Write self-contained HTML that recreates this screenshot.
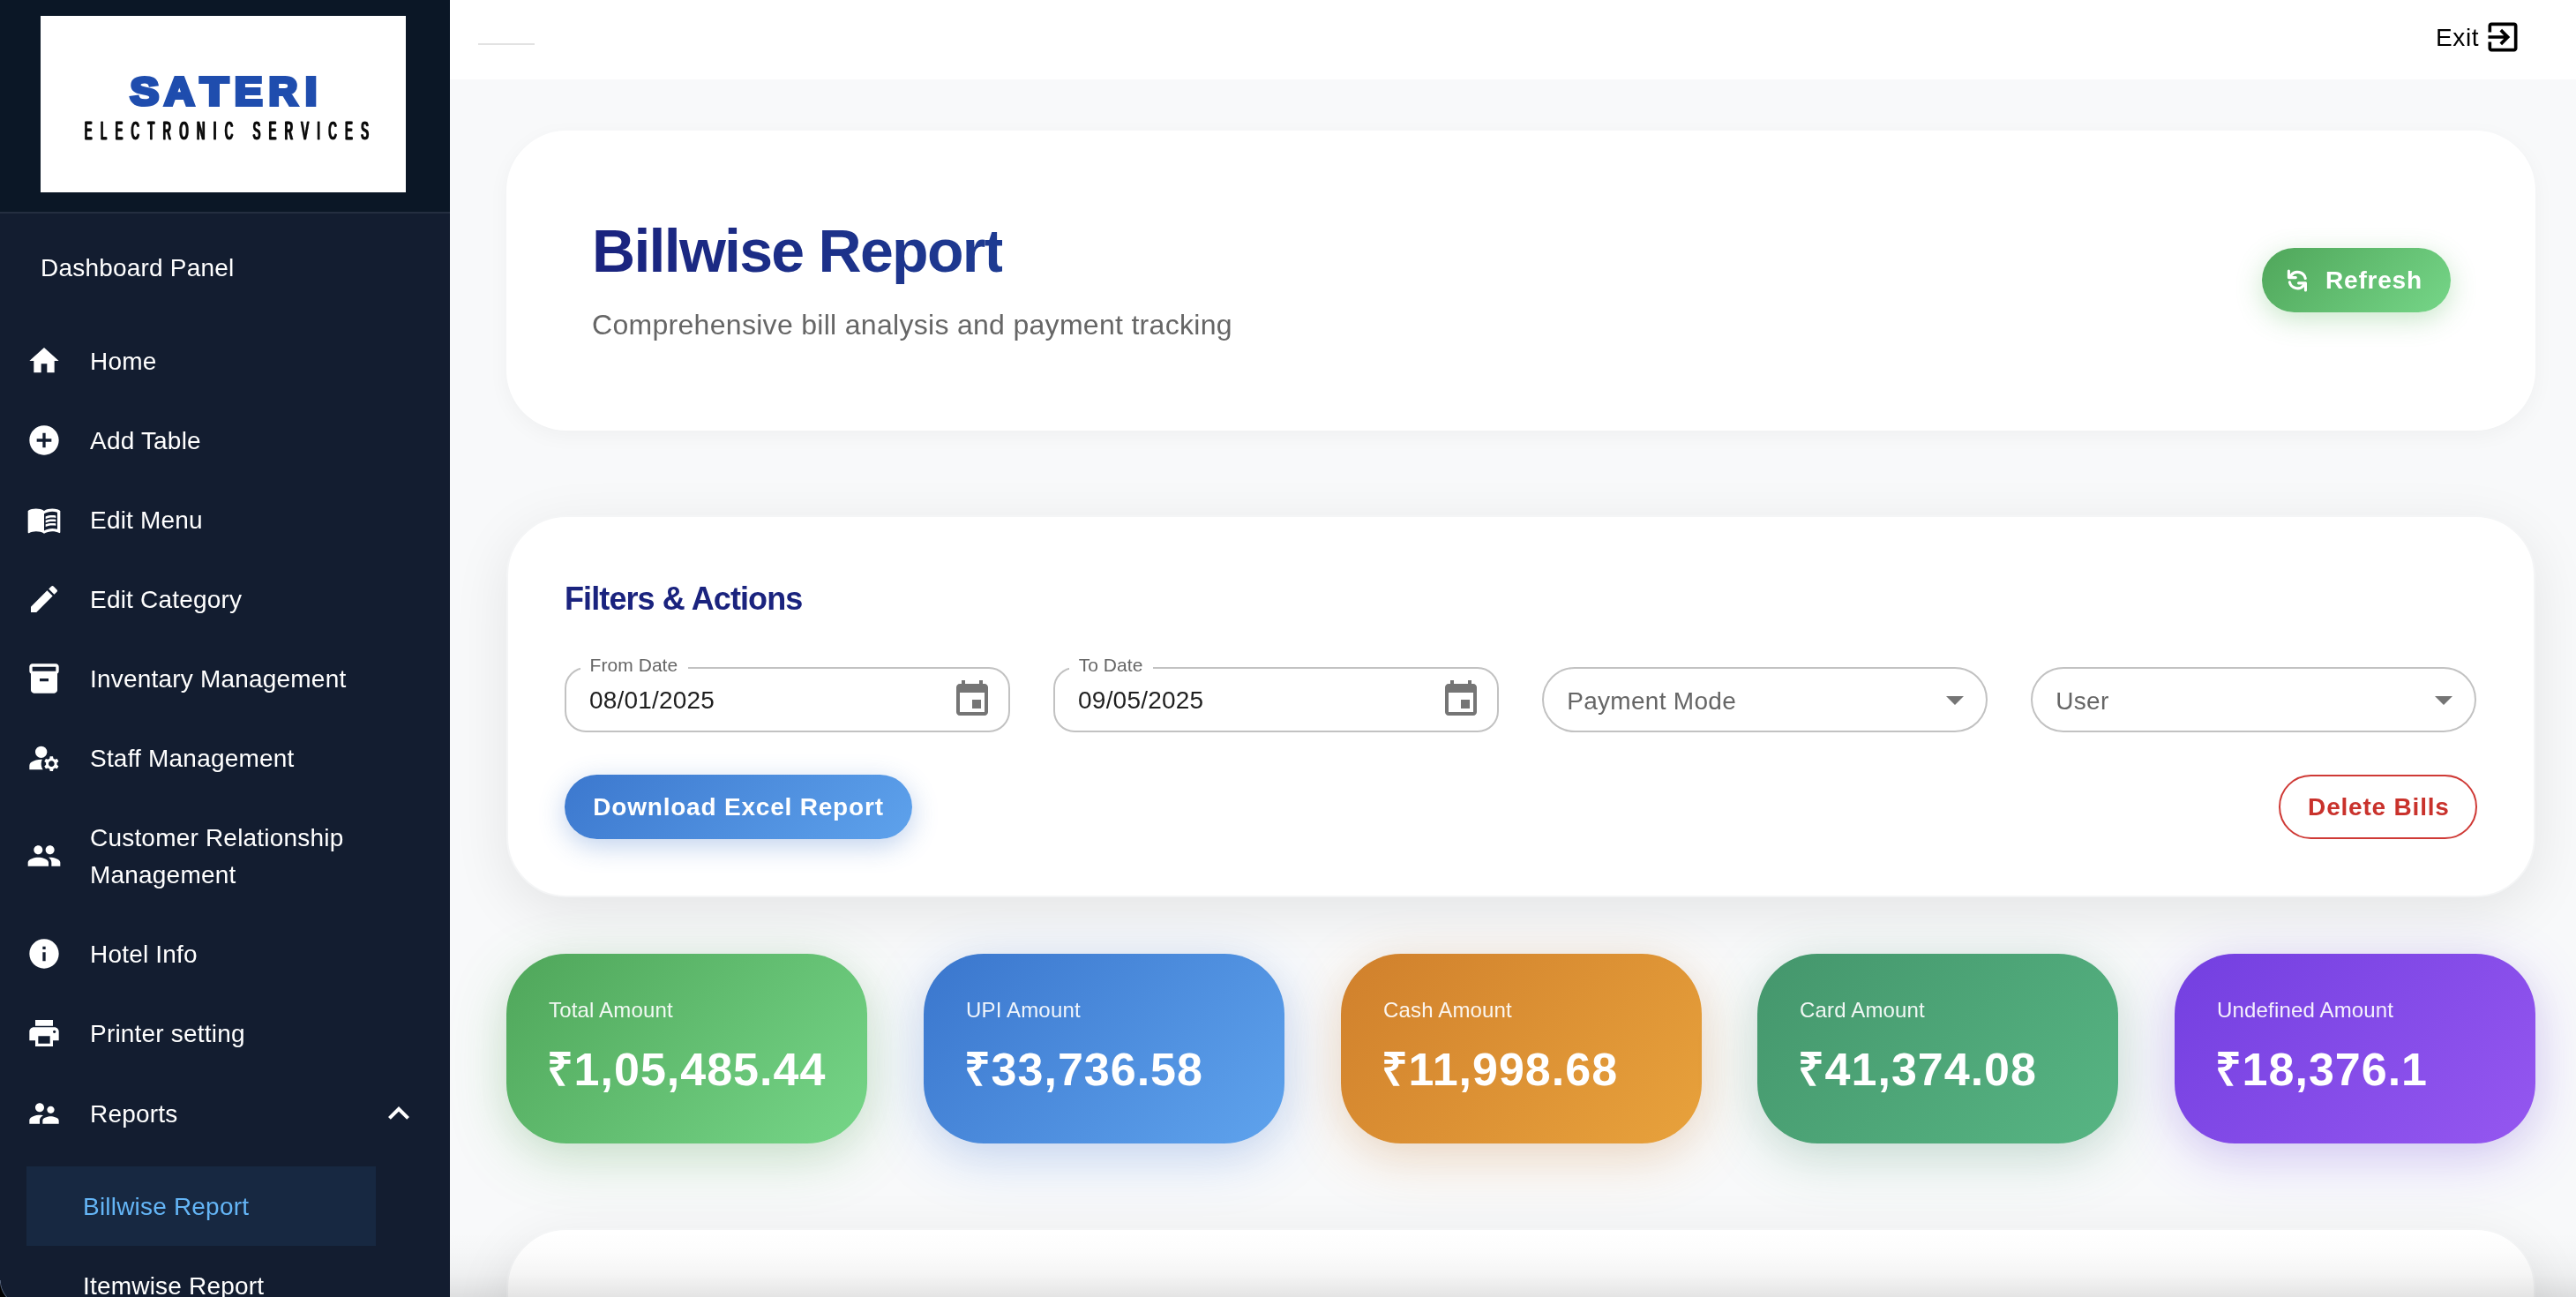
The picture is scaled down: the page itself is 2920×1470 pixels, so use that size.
<!DOCTYPE html>
<html lang="en">
<head>
<meta charset="utf-8">
<title>Billwise Report</title>
<style>
*{box-sizing:border-box;margin:0;padding:0}
html,body{width:2920px;height:1470px;overflow:hidden;background:#f8f9fa}
body{font-family:"Liberation Sans",sans-serif;position:relative;color:#000;will-change:transform}
.abs{position:absolute}
/* ---------- sidebar ---------- */
#side{position:absolute;left:0;top:0;width:510px;height:1470px;background:#131d30;overflow:hidden}
#sidetop{position:absolute;left:0;top:0;width:510px;height:240px;background:#0b1726}
#sidediv{position:absolute;left:0;top:240px;width:510px;height:2px;background:#242e40}
#logo{position:absolute;left:46px;top:18px;width:414px;height:200px;background:#fff}
.nav{position:absolute;left:102px;font-size:28px;line-height:42px;color:#fff;white-space:nowrap;letter-spacing:.2px}
.ico{position:absolute;left:30px;width:40px;height:40px;fill:#fff}
#sel{position:absolute;left:30px;top:1322px;width:396px;height:90px;background:#172841}
/* ---------- top bar ---------- */
#top{position:absolute;left:510px;top:0;width:2410px;height:90px;background:#fff}
#tline{position:absolute;left:542px;top:49px;width:64px;height:2px;background:#e2e2e2}
#exit{position:absolute;left:2761px;top:23px;font-size:28px;line-height:40px;color:#000;letter-spacing:.6px}
/* ---------- cards ---------- */
.card{position:absolute;left:574px;width:2300px;background:#fff;border-radius:68px;box-shadow:0 16px 64px rgba(0,0,0,.085);border:2px solid #f4f5f6}
#c1{top:148px;height:340px;border:0;box-shadow:0 6px 24px rgba(0,0,0,.04)}
#c2{top:584px;height:433px}
#c3{top:1392px;height:300px}
#title{position:absolute;left:671px;top:242px;font-size:68px;line-height:84px;font-weight:700;letter-spacing:-1.72px;white-space:nowrap;
 background:linear-gradient(90deg,#1a237e 0%,#1e3b92 100%);-webkit-background-clip:text;background-clip:text;color:transparent}
#sub{position:absolute;left:671px;top:344px;font-size:32px;line-height:48px;color:#666;white-space:nowrap;letter-spacing:.3px}
.btn{position:absolute;border-radius:50px;font-size:28px;font-weight:700;letter-spacing:.8px;white-space:nowrap;color:#fff;line-height:49px}
#refresh{left:2564px;top:281px;width:214px;height:73px;background:linear-gradient(135deg,#4fa65a 0%,#76d688 100%);box-shadow:0 8px 30px rgba(76,175,80,.3)}
#refresh span{position:absolute;left:72px;top:12px}
#h6{position:absolute;left:640px;top:650px;font-size:36px;line-height:58px;font-weight:700;color:#1a237e;white-space:nowrap;letter-spacing:-.9px}
.fld{position:absolute;top:756.2px;width:505.2px;height:73.4px;border:2px solid #c2c2c2;border-radius:24px}
.fld.sel{border-radius:37px}
.fld .lbl{position:absolute;left:15.8px;top:-19px;padding:0 11.6px 0 10.8px;background:#fff;font-size:21px;line-height:30px;color:#666;white-space:nowrap;letter-spacing:.05px}
.fld .val{position:absolute;left:26px;top:15.6px;font-size:28px;line-height:40px;color:#1f1f1f;white-space:nowrap;letter-spacing:.2px}
.fld .ph{position:absolute;left:26px;top:17px;font-size:28px;line-height:40px;color:#666;white-space:nowrap;letter-spacing:.3px}
.fld svg{position:absolute;fill:#757575}
#dl{left:640px;top:878px;width:394px;height:73px;background:linear-gradient(135deg,#3c78ce 0%,#5ea2ec 100%);box-shadow:0 8px 30px rgba(60,115,200,.32);text-align:center;padding-top:12px}
#del{left:2583px;top:878px;width:225.3px;height:73px;border:2px solid #cf3a36;color:#c9322c;text-align:center;padding-top:10px;padding-left:1.5px}
.stat{position:absolute;top:1081px;width:409px;height:215px;border-radius:68px;color:#fff}
.stat .l{position:absolute;left:48px;top:47px;font-size:24px;line-height:34px;white-space:nowrap;opacity:.92;letter-spacing:.17px}
.stat .v{position:absolute;left:45.6px;top:95.7px;font-size:52px;line-height:70px;letter-spacing:1px;font-weight:700;white-space:nowrap}
#fade{position:absolute;left:510px;top:1396px;width:2410px;height:74px;background:linear-gradient(180deg,rgba(0,0,0,0) 0%,rgba(0,0,0,.01) 30%,rgba(0,0,0,.04) 65%,rgba(0,0,0,.105) 100%)}
</style>
</head>
<body>
<!-- top bar -->
<div id="top"></div>
<div id="tline"></div>
<div id="exit">Exit</div>
<svg class="abs" style="left:2815px;top:20px;width:44px;height:44px" viewBox="0 0 24 24"><path d="M10.09 15.59 11.5 17l5-5-5-5-1.41 1.41L12.67 11H3v2h9.67l-2.58 2.59zM19 3H5c-1.11 0-2 .9-2 2v4h2V5h14v14H5v-4H3v4c0 1.1.89 2 2 2h14c1.1 0 2-.9 2-2V5c0-1.1-.9-2-2-2z"/></svg>

<!-- cards -->
<div class="card" id="c1"></div>
<div id="title">Billwise Report</div>
<div id="sub">Comprehensive bill analysis and payment tracking</div>
<div class="btn" id="refresh"><span>Refresh</span></div>
<svg class="abs" style="left:2580px;top:295px;width:50px;height:45px" viewBox="0 0 50 45" fill="none" stroke="#fff" stroke-width="3.1" stroke-linecap="round" stroke-linejoin="round">
<path d="M14.4 12V19.6H22.3"/><path d="M17.05 16.94A9.2 9.2 0 0 1 33.26 20.53"/>
<path d="M15.39 24.87A9.2 9.2 0 0 0 31.35 28.5"/><path d="M25.5 25.85H33.45V33.9"/>
<path d="M14.4 19.6V14.5L19.5 19.6Z" fill="#fff" stroke="none"/><path d="M33.45 25.85V31L28.3 25.85Z" fill="#fff" stroke="none"/>
</svg>

<div class="card" id="c2"></div>
<div id="h6">Filters &amp; Actions</div>
<div class="fld" style="left:640px"><div class="lbl">From Date</div><div class="val">08/01/2025</div>
<svg style="left:436px;top:11px;width:48px;height:48px" viewBox="0 0 24 24"><path d="M17 12h-5v5h5v-5zM16 1v2H8V1H6v2H5c-1.11 0-1.99.9-1.99 2L3 19c0 1.1.89 2 2 2h14c1.1 0 2-.9 2-2V5c0-1.1-.9-2-2-2h-1V1h-2zm3 18H5V8h14v11z"/></svg></div>
<div class="fld" style="left:1194.1px"><div class="lbl">To Date</div><div class="val">09/05/2025</div>
<svg style="left:436px;top:11px;width:48px;height:48px" viewBox="0 0 24 24"><path d="M17 12h-5v5h5v-5zM16 1v2H8V1H6v2H5c-1.11 0-1.99.9-1.99 2L3 19c0 1.1.89 2 2 2h14c1.1 0 2-.9 2-2V5c0-1.1-.9-2-2-2h-1V1h-2zm3 18H5V8h14v11z"/></svg></div>
<div class="fld sel" style="left:1748.2px"><div class="ph">Payment Mode</div>
<svg style="left:442px;top:11px;width:48px;height:48px" viewBox="0 0 24 24"><path d="m7 10 5 5 5-5z"/></svg></div>
<div class="fld sel" style="left:2302.3px"><div class="ph">User</div>
<svg style="left:442px;top:11px;width:48px;height:48px" viewBox="0 0 24 24"><path d="m7 10 5 5 5-5z"/></svg></div>
<div class="btn" id="dl">Download Excel Report</div>
<div class="btn" id="del">Delete Bills</div>

<!-- stats -->
<div class="stat" style="left:574px;background:linear-gradient(135deg,#4fa65a 0%,#76d688 100%);box-shadow:0 16px 64px rgba(76,175,80,.25),0 8px 40px rgba(0,0,0,.05)"><div class="l">Total Amount</div><div class="v">&#8377;1,05,485.44</div></div>
<div class="stat" style="left:1047px;background:linear-gradient(135deg,#3a76cd 0%,#5fa3ed 100%);box-shadow:0 16px 64px rgba(66,133,244,.25),0 8px 40px rgba(0,0,0,.05)"><div class="l">UPI Amount</div><div class="v">&#8377;33,736.58</div></div>
<div class="stat" style="left:1520px;background:linear-gradient(135deg,#d0802c 0%,#e8a23c 100%);box-shadow:0 16px 64px rgba(230,145,56,.25),0 8px 40px rgba(0,0,0,.05)"><div class="l">Cash Amount</div><div class="v">&#8377;11,998.68</div></div>
<div class="stat" style="left:1992px;background:linear-gradient(135deg,#44966c 0%,#57b583 100%);box-shadow:0 16px 64px rgba(76,160,120,.25),0 8px 40px rgba(0,0,0,.05)"><div class="l">Card Amount</div><div class="v">&#8377;41,374.08</div></div>
<div class="stat" style="left:2465px;background:linear-gradient(135deg,#733fe0 0%,#9557f0 100%);box-shadow:0 16px 64px rgba(124,77,255,.25),0 8px 40px rgba(0,0,0,.05)"><div class="l">Undefined Amount</div><div class="v">&#8377;18,376.1</div></div>

<div class="card" id="c3"></div>
<div id="fade"></div>

<!-- sidebar -->
<div id="side">
<div id="sidetop"></div><div id="sidediv"></div>
<div id="logo">
<svg width="414" height="200" viewBox="0 0 414 200">
<g font-family="Liberation Sans" font-weight="700" font-size="44.5" fill="#1f4dae" stroke="#1f4dae" stroke-width="4" stroke-linejoin="miter" text-anchor="middle">
<text transform="translate(117.8,101.3) scale(1.10,1)">S</text>
<text transform="translate(157.3,101.3) scale(1.06,1)">A</text>
<text transform="translate(196.8,101.3) scale(1.17,1)">T</text>
<text transform="translate(235.6,101.3) scale(1.07,1)">E</text>
<text transform="translate(275.0,101.3) scale(1.02,1)">R</text>
<text transform="translate(306.5,101.3) scale(1.10,1)">I</text>
</g>
<g transform="translate(49.2,139.5) scale(0.46,1.06)" font-family="Liberation Sans" font-weight="400" font-size="28" fill="#0c0c0c" stroke="#0c0c0c" stroke-width=".5"><text x="0.00" y="0" textLength="700" lengthAdjust="spacing">ELECTRONIC SERVICES</text><text x="1.41" y="0" textLength="700" lengthAdjust="spacing">ELECTRONIC SERVICES</text><text x="2.83" y="0" textLength="700" lengthAdjust="spacing">ELECTRONIC SERVICES</text></g>
</svg>
</div>
<div class="nav" style="left:46px;top:283px">Dashboard Panel</div>

<svg class="ico" style="top:389px" viewBox="0 0 24 24"><path d="M10 20v-6h4v6h5v-8h3L12 3 2 12h3v8z"/></svg>
<div class="nav" style="top:389px">Home</div>
<svg class="ico" style="top:479px" viewBox="0 0 24 24"><path d="M12 2C6.48 2 2 6.48 2 12s4.48 10 10 10 10-4.48 10-10S17.52 2 12 2zm5 11h-4v4h-2v-4H7v-2h4V7h2v4h4v2z"/></svg>
<div class="nav" style="top:479px">Add Table</div>
<svg class="ico" style="top:569px" viewBox="0 0 24 24"><path d="M21 5c-1.11-.35-2.33-.5-3.5-.5-1.95 0-4.05.4-5.5 1.500-1.450-1.100-3.550-1.500-5.500-1.500S2.450 4.900 1 6v14.650c0 .25.25.5.5.5.1 0 .15-.05.25-.05C3.100 20.450 5.050 20 6.500 20c1.950 0 4.050.4 5.500 1.500 1.350-.85 3.800-1.500 5.500-1.500 1.650 0 3.350.3 4.750 1.050.1.050.15.050.25.050.25 0 .5-.25.5-.5V6c-.6-.45-1.250-.75-2-1zm0 13.500c-1.100-.35-2.300-.5-3.500-.5-1.700 0-4.150.65-5.500 1.500V8c1.350-.85 3.800-1.500 5.500-1.500 1.200 0 2.400.15 3.500.5v11.500z"/><path d="M17.500 10.500c.88 0 1.730.09 2.500.26V9.240c-.79-.15-1.640-.24-2.500-.24-1.700 0-3.240.29-4.500.83v1.660c1.130-.64 2.700-.99 4.500-.99zM13 12.490v1.660c1.130-.64 2.700-.99 4.500-.99.88 0 1.730.09 2.500.26V11.900c-.79-.15-1.640-.24-2.500-.24-1.700 0-3.240.3-4.500.83zM17.500 14.330c-1.700 0-3.240.29-4.500.83v1.660c1.130-.64 2.700-.99 4.500-.99.88 0 1.730.09 2.500.26v-1.520c-.79-.16-1.640-.24-2.500-.24z"/></svg>
<div class="nav" style="top:569px">Edit Menu</div>
<svg class="ico" style="top:659px" viewBox="0 0 24 24"><path d="M3 17.25V21h3.750L17.810 9.940l-3.750-3.750L3 17.250zM20.710 7.040c.39-.39.39-1.020 0-1.410l-2.340-2.340a.9959.9959 0 0 0-1.410 0l-1.830 1.830 3.750 3.750 1.830-1.830z"/></svg>
<div class="nav" style="top:659px">Edit Category</div>
<svg class="ico" style="top:749px" viewBox="0 0 24 24"><path d="M20 2H4c-1 0-2 .9-2 2v3.010c0 .72.43 1.340 1 1.690V20c0 1.100 1.100 2 2 2h14c.9 0 2-.9 2-2V8.700c.57-.35 1-.97 1-1.690V4c0-1.100-1-2-2-2zm-5 12H9v-2h6v2zm5-7H4V4l16-.02V7z"/></svg>
<div class="nav" style="top:749px">Inventary Management</div>
<svg class="ico" style="top:839px" viewBox="0 0 24 24"><circle cx="10" cy="8" r="4"/><path d="M10.670 13.020c-.22-.01-.44-.02-.67-.02-2.420 0-4.680.67-6.610 1.820-.88.52-1.390 1.500-1.390 2.530V20h9.260c-.79-1.130-1.260-2.510-1.260-4 0-1.070.25-2.070.67-2.980zM20.750 16c0-.22-.03-.42-.06-.63l1.140-1.010-1-1.730-1.450.49c-.32-.27-.68-.48-1.080-.63L18 11h-2l-.3 1.490c-.4.15-.76.36-1.080.63l-1.450-.49-1 1.730 1.140 1.010c-.03.21-.06.41-.06.63s.03.42.06.63l-1.140 1.010 1 1.730 1.450-.49c.32.27.68.48 1.080.63L16 21h2l.3-1.490c.4-.15.76-.36 1.080-.63l1.450.49 1-1.730-1.140-1.010c.03-.21.06-.41.06-.63zM17 18c-1.100 0-2-.9-2-2s.9-2 2-2 2 .9 2 2-.9 2-2 2z"/></svg>
<div class="nav" style="top:839px">Staff Management</div>
<svg class="ico" style="top:950px" viewBox="0 0 24 24"><path d="M16 11c1.660 0 2.990-1.340 2.990-3S17.660 5 16 5c-1.660 0-3 1.340-3 3s1.340 3 3 3zm-8 0c1.660 0 2.990-1.340 2.990-3S9.660 5 8 5C6.340 5 5 6.340 5 8s1.340 3 3 3zm0 2c-2.330 0-7 1.170-7 3.500V19h14v-2.500c0-2.330-4.670-3.500-7-3.500zm8 0c-.29 0-.62.020-.97.050 1.160.84 1.970 1.970 1.970 3.450V19h6v-2.500c0-2.330-4.670-3.500-7-3.500z"/></svg>
<div class="nav" style="top:929px">Customer Relationship<br>Management</div>
<svg class="ico" style="top:1061px" viewBox="0 0 24 24"><path d="M12 2C6.480 2 2 6.480 2 12s4.480 10 10 10 10-4.480 10-10S17.520 2 12 2zm1 15h-2v-6h2v6zm0-8h-2V7h2v2z"/></svg>
<div class="nav" style="top:1061px">Hotel Info</div>
<svg class="ico" style="top:1151px" viewBox="0 0 24 24"><path d="M19 8H5c-1.660 0-3 1.340-3 3v6h4v4h12v-4h4v-6c0-1.660-1.340-3-3-3zm-3 11H8v-5h8v5zm3-7c-.55 0-1-.45-1-1s.45-1 1-1 1 .45 1 1-.45 1-1 1zm-1-9H6v4h12V3z"/></svg>
<div class="nav" style="top:1151px">Printer setting</div>
<svg class="ico" style="top:1242px" viewBox="0 0 24 24"><path d="M16.500 12c1.380 0 2.490-1.120 2.490-2.500S17.880 7 16.500 7C15.120 7 14 8.120 14 9.500s1.120 2.500 2.500 2.500zM9 11c1.660 0 2.990-1.340 2.990-3S10.660 5 9 5C7.340 5 6 6.340 6 8s1.340 3 3 3zm7.500 3c-1.830 0-5.500.92-5.500 2.750V19h11v-2.250c0-1.830-3.670-2.750-5.500-2.750zM9 13c-2.330 0-7 1.170-7 3.500V19h7v-2.250c0-.85.33-2.340 2.370-3.470C10.500 13.100 9.660 13 9 13z"/></svg>
<div class="nav" style="top:1242px">Reports</div>
<svg class="abs" style="left:428px;top:1238px;width:48px;height:48px;fill:#fff" viewBox="0 0 24 24"><path d="m12 8-6 6 1.410 1.410L12 10.830l4.590 4.580L18 14z"/></svg>
<div id="sel"></div>
<div class="abs" style="left:0;top:1451px;width:29px;height:29px;background:radial-gradient(circle at 100% 0,rgba(0,0,0,0) 27.8px,#55627a 28.6px,#000 29.6px)"></div>
<div class="nav" style="left:94px;top:1347px;color:#64b5f6">Billwise Report</div>
<div class="nav" style="left:94px;top:1437px">Itemwise Report</div>
</div>
</body>
</html>
